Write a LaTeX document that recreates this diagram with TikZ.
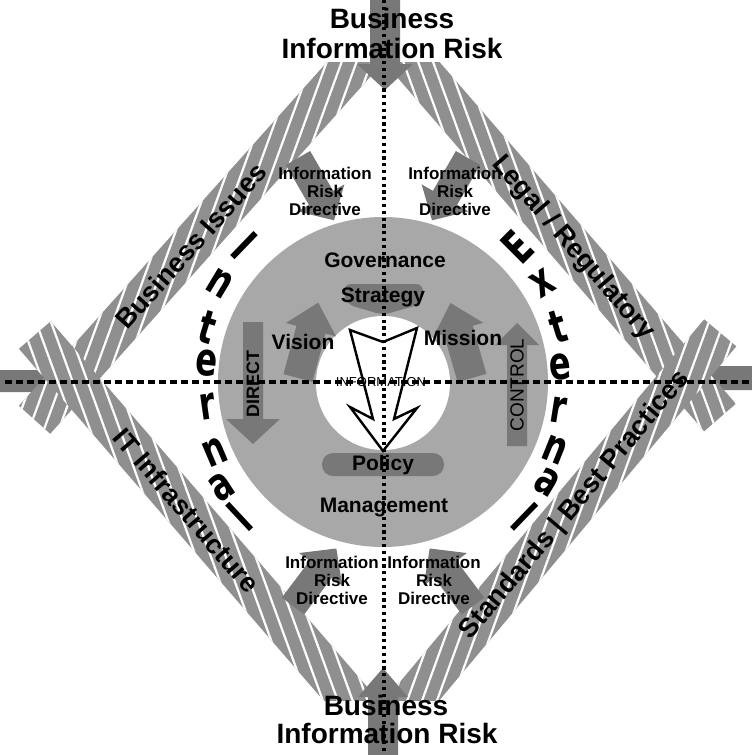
\documentclass[tikz,border=0pt]{standalone}
\usepackage{fontspec}
\setmainfont{Liberation Sans}
\newfontfamily\heavyfont{DejaVu Sans}
\usetikzlibrary{calc, patterns.meta}

\definecolor{bandgray}{gray}{0.56}
\definecolor{discgray}{gray}{0.66}
\definecolor{darkgray}{gray}{0.47}

% block arrow: base, rotation, length, shaft half width, head half width, head length
\newcommand{\blockarrow}[6]{%
  \fill[darkgray, shift={(#1)}, rotate=#2] (-#4,0) -- (-#4,-#3+#6) -- (-#5,-#3+#6) -- (0,-#3)
    -- (#5,-#3+#6) -- (#4,-#3+#6) -- (#4,0) -- cycle;}

% striped band from one corner to the next
\newcommand{\band}[3]{%
  \path[preaction={fill=bandgray}, pattern={Lines[angle=#3,distance=7pt,line width=1.1pt]}, pattern color=white]
    ($(#1)!10.5pt!90:(#2)$) -- ($(#2)!10.5pt!-90:(#1)$) -- ($(#2)!10.5pt!90:(#1)$) -- ($(#1)!10.5pt!-90:(#2)$) -- cycle;}

\begin{document}
\begin{tikzpicture}[
    x=0.5pt, y=-0.5pt,
    bigtxt/.style={font=\fontsize{14}{15}\selectfont\bfseries, anchor=base, inner sep=0pt},
    bandtxt/.style={font=\fontsize{13.5}{14}\selectfont\bfseries, inner sep=0pt, sloped},
    irtxt/.style={font=\fontsize{8.5}{9}\selectfont\bfseries, align=center, inner sep=0pt},
    ringtxt/.style={font=\fontsize{10.5}{11}\selectfont\bfseries, inner sep=0pt},
    bigletter/.style={font=\heavyfont\fontsize{23}{23}\selectfont\bfseries, inner sep=0pt},
    hline/.style={line width=1.6pt, dash pattern=on 3.5pt off 2pt},
    vline/.style={line width=1.8pt, dash pattern=on 1.6pt off 1.8pt}
]
    \useasboundingbox (0,0) rectangle (751,755);

    % corners of the diamond
    \coordinate (T) at (384,30);
    \coordinate (B) at (382,736);
    \coordinate (L) at (72,378);
    \coordinate (R) at (684,376);
    \coordinate (Lu) at ($(B)!1.12!(L)$);
    \coordinate (Ld) at ($(T)!1.12!(L)$);
    \coordinate (Ru) at ($(B)!1.12!(R)$);
    \coordinate (Rd) at ($(T)!1.12!(R)$);

    % side arrows (under the bands)
    \blockarrow{0,381}{-90}{100}{11}{26}{35}
    \blockarrow{755,378}{90}{90}{12}{26}{35}

    % striped bands
    \begin{scope}
        \clip (0,62) rectangle (751,700);
        \band{Ld}{T}{70}
        \band{T}{Rd}{110}
        \band{Lu}{B}{110}
        \band{B}{Ru}{70}
    \end{scope}

    % band labels
    \path (L) -- node[bandtxt, pos=0.38] (bizissues) {Business Issues} (T);
    \path (T) -- node[bandtxt, pos=0.63] (legal) {Legal / Regulatory} (R);
    \path (L) -- node[bandtxt, pos=0.37] (itinfra) {IT Infrastructure} (B);
    \path (B) -- node[bandtxt, pos=0.64] (standards) {Standards | Best Practices} (R);

    % top and bottom arrows
    \blockarrow{385,-5}{180}{95}{15}{28}{26}
    \blockarrow{383,760}{0}{92}{15}{25}{29}

    % ring
    \fill[discgray] (383,382) circle[radius=165];
    \fill[white] (383,383) circle[radius=67];

    % arrows into the ring
    \blockarrow{298,158}{-150}{72}{14}{27}{26}
    \blockarrow{468,158}{150}{72}{14}{27}{26}
    \blockarrow{293,606}{-37}{72}{14}{27}{26}
    \blockarrow{473,606}{37}{72}{14}{27}{26}

    % arrows in the ring
    \blockarrow{298,378}{-15}{78}{15}{26}{28}
    \blockarrow{472,378}{16}{78}{15}{26}{28}
    \blockarrow{253,322}{180}{122}{10}{27}{25}
    \blockarrow{517,446}{0}{123}{10}{22}{22}

    \fill[darkgray, rounded corners=4pt] (343,284) -- (424,284) -- (421,304) -- (383,315) -- (346,304) -- cycle;
    \fill[darkgray, rounded corners=5.5pt] (322,453) rectangle (444,476);

    % white arrow down the middle
    \draw[line width=1.2pt, fill=white] (350,330) -- (383,342) -- (417,328) -- (394,419) -- (417,408)
        -- (383,451) -- (350,407) -- (373,419) -- cycle;

    % texts
    \node[bigtxt] (biztop) at (392,28) {Business};
    \node[bigtxt] (risktop) at (392,58) {Information Risk};
    \node[bigtxt] (bizbot) at (386,715) {Business};
    \node[bigtxt] (riskbot) at (387,743) {Information Risk};

    \node[irtxt] (irtl) at (325,191) {Information\\Risk\\Directive};
    \node[irtxt] (irtr) at (455,191) {Information\\Risk\\Directive};
    \node[irtxt] (irbl) at (332,580) {Information\\Risk\\Directive};
    \node[irtxt] (irbr) at (434,580) {Information\\Risk\\Directive};

    \node[ringtxt] (gov) at (385,260) {Governance};
    \node[ringtxt] (strat) at (383,297) {Strategy};
    \node[ringtxt] (vision) at (303,342) {Vision};
    \node[ringtxt] (mission) at (463,338) {Mission};
    \node[ringtxt] (policy) at (383,465) {Policy};
    \node[ringtxt] (mgmt) at (384,507) {Management};
    \node[font=\fontsize{6.5}{7}\selectfont, inner sep=0pt] (info) at (381,382) {INFORMATION};
    \node[font=\fontsize{9}{9}\selectfont\bfseries, rotate=90, inner sep=0pt] (direct) at (253,384) {DIRECT};
    \node[font=\fontsize{9.5}{9.5}\selectfont, rotate=90, inner sep=0pt] (control) at (517,385) {CONTROL};

    % Internal
    \node[bigletter, rotate=-44] (in1) at (244,246) {\scalebox{0.7}[1]{I}};
    \node[bigletter, rotate=-31] (in2) at (220,283) {\scalebox{0.7}[1]{n}};
    \node[bigletter, rotate=-17] (in3) at (208,327) {\scalebox{0.7}[1]{t}};
    \node[bigletter, rotate=-6] (in4) at (207,363) {\scalebox{0.7}[1]{e}};
    \node[bigletter, rotate=8] (in5) at (208,407) {\scalebox{0.7}[1]{r}};
    \node[bigletter, rotate=23] (in6) at (215,452) {\scalebox{0.7}[1]{n}};
    \node[bigletter, rotate=33] (in7) at (222,487) {\scalebox{0.7}[1]{a}};
    \node[bigletter, rotate=43] (in8) at (240,517) {\scalebox{0.7}[1]{l}};

    % External
    \node[bigletter, rotate=45] (ex1) at (517,247) {\scalebox{0.7}[1]{E}};
    \node[bigletter, rotate=32] (ex2) at (543,283) {\scalebox{0.7}[1]{x}};
    \node[bigletter, rotate=17] (ex3) at (558,327) {\scalebox{0.7}[1]{t}};
    \node[bigletter, rotate=5] (ex4) at (560,367) {\scalebox{0.7}[1]{e}};
    \node[bigletter, rotate=-9] (ex5) at (558,410) {\scalebox{0.7}[1]{r}};
    \node[bigletter, rotate=-22] (ex6) at (555,450) {\scalebox{0.7}[1]{n}};
    \node[bigletter, rotate=-31] (ex7) at (547,482) {\scalebox{0.7}[1]{a}};
    \node[bigletter, rotate=-44] (ex8) at (525,517) {\scalebox{0.7}[1]{l}};

    % axes
    \draw[hline] (5,382) -- (751,382);
    \draw[vline] (384,0) -- (384,755);

\end{tikzpicture}
\end{document}
